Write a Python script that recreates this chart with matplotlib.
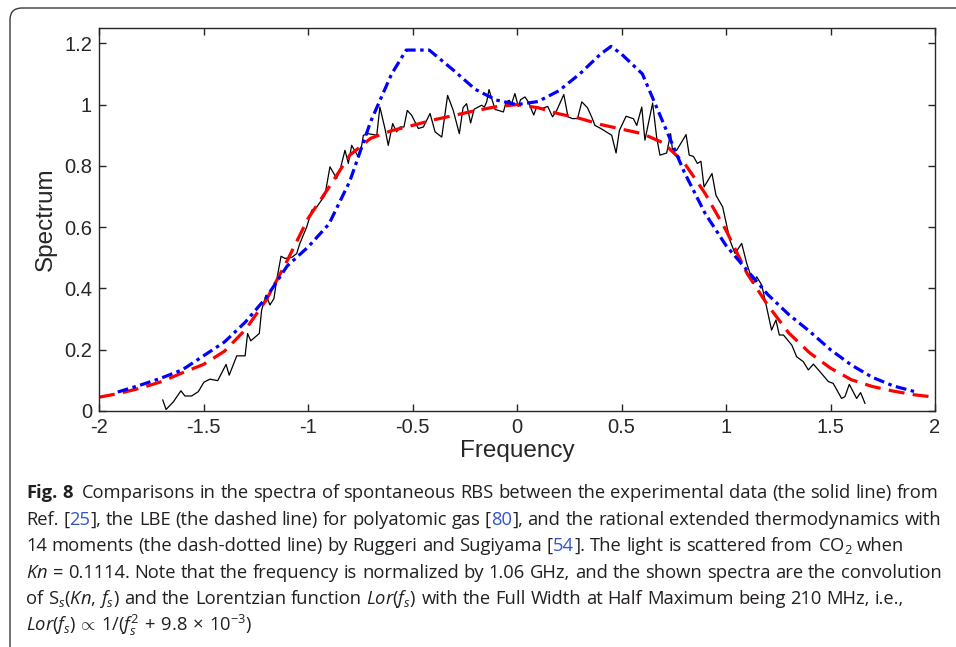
import matplotlib
matplotlib.use("Agg")
import matplotlib.pyplot as plt
from matplotlib import font_manager
from matplotlib.patches import FancyBboxPatch

# experimental data (solid line)
f_exp = [-1.695, -1.679, -1.644, -1.608, -1.589, -1.557, -1.525, -1.498, -1.469, -1.432,
         -1.392, -1.377, -1.341, -1.301, -1.289, -1.274, -1.233, -1.222, -1.201, -1.182,
         -1.163, -1.150, -1.129, -1.110, -1.078, -1.054, -1.040, -1.006, -0.982, -0.958,
         -0.919, -0.895, -0.863, -0.847, -0.823, -0.807, -0.791, -0.759, -0.743, -0.735,
         -0.711, -0.671, -0.656, -0.632, -0.616, -0.595, -0.576, -0.560, -0.541, -0.525,
         -0.504, -0.472, -0.448, -0.416, -0.392, -0.360, -0.332, -0.305, -0.276, -0.258,
         -0.241, -0.222, -0.205, -0.185, -0.169, -0.156, -0.145, -0.134, -0.121, -0.105,
         -0.089, -0.065, -0.052, -0.037, -0.026, -0.010, 0.006, 0.017, 0.038, 0.054,
         0.080, 0.094, 0.118, 0.147, 0.170, 0.190, 0.224, 0.244, 0.266, 0.290,
         0.310, 0.337, 0.357, 0.373, 0.401, 0.453, 0.474, 0.490, 0.522, 0.557,
         0.573, 0.597, 0.612, 0.649, 0.668, 0.684, 0.716, 0.735, 0.745, 0.764,
         0.809, 0.824, 0.844, 0.863, 0.880, 0.895, 0.933, 0.952, 0.984, 1.019,
         1.043, 1.075, 1.099, 1.131, 1.147, 1.171, 1.194, 1.218, 1.239, 1.255,
         1.275, 1.315, 1.338, 1.370, 1.394, 1.418, 1.450, 1.490, 1.513, 1.553,
         1.569, 1.590, 1.625, 1.644, 1.665]
s_exp = [0.036, 0.005, 0.030, 0.066, 0.049, 0.049, 0.063, 0.094, 0.104, 0.099,
         0.152, 0.117, 0.180, 0.180, 0.253, 0.229, 0.253, 0.329, 0.378, 0.346,
         0.367, 0.427, 0.505, 0.498, 0.501, 0.514, 0.545, 0.601, 0.655, 0.666,
         0.704, 0.797, 0.759, 0.786, 0.851, 0.808, 0.867, 0.829, 0.867, 0.900,
         0.905, 0.900, 0.992, 0.922, 0.867, 0.938, 0.911, 0.927, 0.927, 0.981,
         0.965, 0.922, 0.927, 0.971, 0.911, 0.894, 1.030, 0.981, 0.905, 0.990,
         1.003, 0.940, 0.985, 0.992, 0.998, 0.992, 1.009, 1.049, 1.020, 0.984,
         0.981, 0.976, 1.009, 1.014, 1.003, 1.036, 0.994, 1.016, 1.025, 1.009,
         0.966, 0.992, 0.987, 0.994, 0.960, 0.981, 1.033, 0.960, 0.954, 0.955,
         1.009, 0.990, 0.960, 0.932, 0.922, 0.900, 0.842, 0.916, 0.962, 0.954,
         0.932, 0.992, 0.884, 1.005, 0.894, 0.835, 0.842, 0.905, 0.845, 0.851,
         0.902, 0.835, 0.831, 0.808, 0.815, 0.731, 0.775, 0.704, 0.666, 0.557,
         0.514, 0.547, 0.482, 0.416, 0.438, 0.411, 0.340, 0.264, 0.297, 0.248,
         0.248, 0.215, 0.177, 0.161, 0.134, 0.153, 0.128, 0.096, 0.090, 0.041,
         0.047, 0.087, 0.041, 0.060, 0.025]

# LBE (dashed line)
f_lbe = [-2.0, -1.9, -1.8, -1.7, -1.6, -1.5, -1.4, -1.3, -1.2, -1.1, -1.0, -0.9, -0.8,
         -0.7, -0.6, -0.5, -0.4, -0.3, -0.2, -0.1, 0.0, 0.1, 0.2, 0.3, 0.4, 0.5, 0.6,
         0.7, 0.8, 0.9, 1.0, 1.1, 1.2, 1.3, 1.4, 1.5, 1.6, 1.7, 1.8, 1.9, 2.0]
s_lbe = [0.045, 0.058, 0.075, 0.096, 0.125, 0.152, 0.195, 0.265, 0.362, 0.490, 0.628,
         0.730, 0.835, 0.890, 0.915, 0.932, 0.950, 0.965, 0.980, 0.993, 1.000, 0.990,
         0.970, 0.955, 0.935, 0.920, 0.905, 0.875, 0.810, 0.710, 0.590, 0.450, 0.345,
         0.255, 0.190, 0.140, 0.102, 0.080, 0.065, 0.053, 0.045]

# R-ET14 (dash-dotted line)
f_et = [-1.91, -1.8, -1.7, -1.6, -1.5, -1.4, -1.3, -1.2, -1.1, -1.0, -0.9, -0.8, -0.7,
        -0.6, -0.53, -0.42, -0.3, -0.2, -0.1, 0.0, 0.1, 0.2, 0.3, 0.4, 0.45, 0.5, 0.6,
        0.7, 0.8, 0.9, 1.0, 1.1, 1.2, 1.3, 1.4, 1.5, 1.6, 1.7, 1.8, 1.91]
s_et = [0.062, 0.085, 0.108, 0.135, 0.180, 0.225, 0.290, 0.370, 0.473, 0.535, 0.610,
        0.750, 0.945, 1.100, 1.178, 1.178, 1.110, 1.050, 1.015, 1.000, 1.010, 1.045,
        1.100, 1.165, 1.190, 1.165, 1.100, 0.940, 0.780, 0.645, 0.540, 0.460, 0.380,
        0.315, 0.260, 0.200, 0.150, 0.110, 0.082, 0.062]

x_ticks = [-2, -1.5, -1, -0.5, 0, 0.5, 1, 1.5, 2]
x_tick_labels = ["-2", "-1.5", "-1", "-0.5", "0", "0.5", "1", "1.5", "2"]
y_ticks = [0, 0.2, 0.4, 0.6, 0.8, 1.0, 1.2]
y_tick_labels = ["0", "0.2", "0.4", "0.6", "0.8", "1", "1.2"]

REF = "#3355c8"
caption = [
    [("Fig. 8", "bold"), (" Comparisons in the spectra of spontaneous RBS between the experimental data (the solid line) from", None)],
    [("Ref. [", None), ("25", REF), ("], the LBE (the dashed line) for polyatomic gas [", None), ("80", REF),
     ("], and the rational extended thermodynamics with", None)],
    [("14 moments (the dash-dotted line) by Ruggeri and Sugiyama [", None), ("54", REF),
     ("]. The light is scattered from CO$_2$ when", None)],
    [("$Kn$ = 0.1114. Note that the frequency is normalized by 1.06 GHz, and the shown spectra are the convolution", None)],
    [("of $\\mathrm{S}_s(Kn,\\,f_s)$ and the Lorentzian function $Lor(f_s)$ with the Full Width at Half Maximum being 210 MHz, i.e.,", None)],
    [("$Lor(f_s)\\,\\propto\\,1/(f_s^2\\,+\\,9.8\\,\\times\\,10^{-3})$", None)],
]

names = {f.name for f in font_manager.fontManager.ttflist}
cap_font = next((n for n in ["Liberation Sans Narrow", "Open Sans"] if n in names), "DejaVu Sans")
plt.rcParams["axes.unicode_minus"] = False
plt.rcParams["font.family"] = ["Liberation Sans", "DejaVu Sans"]
plt.rcParams["mathtext.fontset"] = "custom"
plt.rcParams["mathtext.rm"] = cap_font
plt.rcParams["mathtext.it"] = cap_font + ":italic"
plt.rcParams["mathtext.bf"] = cap_font + ":bold"

W, H = 956, 647
fig = plt.figure(figsize=(W / 100, H / 100), dpi=100)
ax = fig.add_axes([99 / W, 1 - 411 / H, (935 - 99) / W, (411 - 28) / H])

ax.plot(f_exp, s_exp, color="black", lw=0.9)
ax.plot(f_lbe, s_lbe, color="#ff0000", lw=2.3, linestyle=(0, (5, 2.6)))
ax.plot(f_et, s_et, color="#0000ff", lw=2.3, linestyle=(0, (3.4, 1.4, 1.1, 1.4)))

ax.set_xlim(-2, 2)
ax.set_ylim(0, 1.25)
ax.set_xticks(x_ticks)
ax.set_xticklabels(x_tick_labels)
ax.set_yticks(y_ticks)
ax.set_yticklabels(y_tick_labels)
ax.tick_params(direction="in", length=5, width=1, top=True, right=True,
               color="#262626", labelcolor="#262626", labelsize=14.5, pad=5)
for sp in ax.spines.values():
    sp.set_color("#262626")
    sp.set_linewidth(1.0)
ax.set_xlabel("Frequency", fontsize=17.5, color="#262626", labelpad=2)
ax.set_ylabel("Spectrum", fontsize=17.5, color="#262626", labelpad=5)

# rounded frame around the figure
frame = FancyBboxPatch((0.10, -0.5), 10.0, 6.89, boxstyle="round,pad=0,rounding_size=0.12",
                       transform=fig.dpi_scale_trans, facecolor="none",
                       edgecolor="#3a3a3a", lw=1.0)
fig.add_artist(frame)

renderer = fig.canvas.get_renderer()


def split_words(segs):
    words = [[]]
    for text, style in segs:
        buf, inmath = "", False
        for ch in text:
            if ch == "$":
                inmath = not inmath
            if ch == " " and not inmath:
                if buf:
                    words[-1].append((buf, style))
                    buf = ""
                if words[-1]:
                    words.append([])
            else:
                buf += ch
        if buf:
            words[-1].append((buf, style))
    return [w for w in words if w]


def draw_line(x0, ybase, segs, size):
    arts = []
    probe1 = fig.text(0, 0, "a a", fontsize=size, family=cap_font)
    probe2 = fig.text(0, 0, "aa", fontsize=size, family=cap_font)
    space = (probe1.get_window_extent(renderer).width
             - probe2.get_window_extent(renderer).width)
    probe1.remove()
    probe2.remove()
    x = x0
    words = split_words(segs)
    for i, word in enumerate(words):
        for piece, style in word:
            kw = dict(fontsize=size, family=cap_font, color="#231f20", va="baseline", ha="left")
            if style == "bold":
                kw["weight"] = "bold"
            elif style is not None:
                kw["color"] = style
            t = fig.text(x / W, 1 - ybase / H, piece, **kw)
            arts.append(t)
            x += t.get_window_extent(renderer).width
        x += space
        if word[-1][1] == "bold" and i + 1 < len(words) and words[i + 1][0][1] != "bold":
            x += space
    return arts, x - space - x0


# fit caption size so the first line spans the frame width
test, width = draw_line(26, 498, caption[0], 12)
for t in test:
    t.remove()
cap_size = 12 * 908 / width

for i, segs in enumerate(caption):
    draw_line(26, 498 + i * 26.6, segs, cap_size)

fig.savefig("out.png", dpi=100)
